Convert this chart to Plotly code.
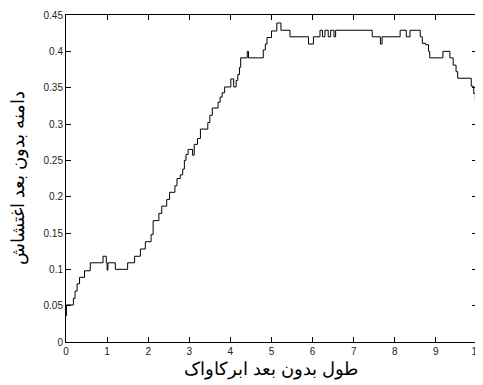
import plotly.graph_objects as go

x_vals = [0.0, 0.01, 0.18, 0.22, 0.27, 0.33, 0.45, 0.59, 0.9, 0.98, 1.0, 1.02, 1.2, 1.5,
          1.67, 1.81, 1.93, 2.07, 2.12, 2.26, 2.33, 2.45, 2.52, 2.65, 2.7, 2.78, 2.84,
          2.88, 2.92, 2.97, 3.08, 3.12, 3.2, 3.27, 3.45, 3.5, 3.56, 3.7, 3.75, 3.8,
          3.86, 4.01, 4.08, 4.14, 4.18, 4.22, 4.25, 4.41, 4.44, 4.8, 4.85, 4.89, 5.0,
          5.13, 5.23, 5.45, 5.9, 6.02, 6.18, 6.24, 6.3, 6.38, 6.44, 6.52,
          6.56, 7.45, 7.65, 7.69, 8.13, 8.28, 8.37, 8.62, 8.67, 8.75, 8.82, 8.85, 9.17,
          9.34, 9.42, 9.49, 9.53, 9.86, 9.92, 9.96, 10.0]
y_vals = [0.036, 0.051, 0.06, 0.07, 0.08, 0.089, 0.098, 0.109, 0.118, 0.109, 0.099, 0.109,
          0.1, 0.109, 0.118, 0.128, 0.138, 0.148, 0.167, 0.177, 0.187, 0.196, 0.206,
          0.215, 0.225, 0.23, 0.238, 0.25, 0.258, 0.265, 0.257, 0.272, 0.28, 0.293,
          0.302, 0.312, 0.322, 0.33, 0.337, 0.343, 0.351, 0.362, 0.351, 0.36, 0.368,
          0.378, 0.391, 0.4, 0.391, 0.402, 0.41, 0.419, 0.428, 0.439, 0.429, 0.42, 0.41,
          0.42, 0.429, 0.42, 0.429, 0.42, 0.429, 0.42,
          0.429, 0.42, 0.41, 0.42, 0.429, 0.42, 0.429, 0.42, 0.411, 0.409, 0.4, 0.391, 0.4,
          0.391, 0.381, 0.372, 0.363, 0.352, 0.342, 0.331, 0.331]

x_title = "طول بدون بعد ابرکاواک"
y_title = "دامنه بدون بعد اغتشاش"

title_font = dict(family="Arial, DejaVu Sans", size=18, color="black", weight=300)

fig = go.Figure()
fig.add_trace(go.Scatter(x=x_vals, y=y_vals, mode="lines", line_shape="hv",
                         line=dict(color="black", width=1), showlegend=False))

axis_common = dict(showline=True, linecolor="black", linewidth=1, mirror="ticks",
                   ticks="inside", ticklen=5, tickcolor="black", showgrid=False,
                   zeroline=False, automargin=False,
                   tickfont=dict(family="Liberation Sans, Arial", size=10, color="#222222"))

# the page body adds an 8px offset, so the figure is sized to fit the window
fig.update_layout(
    width=475, height=377,
    margin=dict(l=58, r=6, t=7, b=43),
    paper_bgcolor="white", plot_bgcolor="white",
    xaxis=dict(range=[0, 10], dtick=1, tick0=0,
               title=dict(text=x_title, font=title_font, standoff=6),
               **axis_common),
    yaxis=dict(range=[0, 0.45], dtick=0.05, tick0=0,
               title=dict(text=y_title, font=title_font, standoff=22),
               **axis_common),
)

fig.write_html("out.html")
